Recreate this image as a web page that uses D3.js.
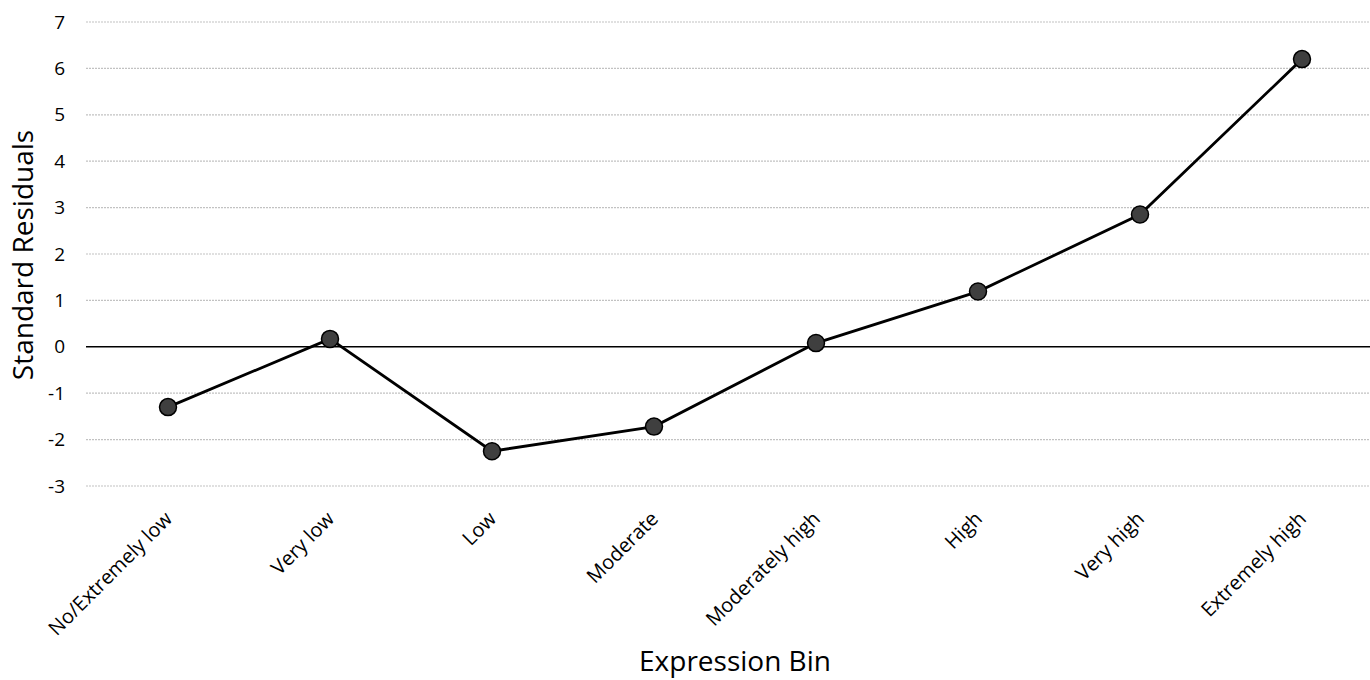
<!DOCTYPE html>
<html><head><meta charset="utf-8">
<script src="https://cdn.jsdelivr.net/npm/d3@7"></script>
<style>body{margin:0;background:#fff}svg{display:block;font-family:"Open Sans",sans-serif}</style>
</head><body><svg id="c" width="1370" height="680"></svg>
<script>
const categories = ["No/Extremely low","Very low","Low","Moderate","Moderately high","High","Very high","Extremely high"];
const residuals = [-1.3, 0.17, -2.25, -1.72, 0.08, 1.19, 2.85, 6.2];
const yTicks = [-3,-2,-1,0,1,2,3,4,5,6,7];

const svg = d3.select("#c");
const x = d3.scalePoint().domain(categories).range([168, 1302]);
const y = d3.scaleLinear().domain([-3, 7]).range([486, 22]);
const left = 86, right = 1370;
const FONT = "'Open Sans',sans-serif";

// gridlines
svg.append("g").selectAll("line").data(yTicks.filter(d => d !== 0)).join("line")
  .attr("x1", left).attr("x2", right).attr("y1", d => y(d)).attr("y2", d => y(d))
  .attr("stroke", "#c2c2c2").attr("stroke-width", 1.2).attr("stroke-dasharray", "2,1");

// y axis labels
const yAxis = d3.axisLeft(y).tickValues(yTicks).tickSize(0).tickPadding(0).tickFormat(d => String(d));
const ya = svg.append("g").attr("transform", `translate(65,0)`).call(yAxis);
ya.select(".domain").remove();
ya.selectAll("text").attr("font-size", 19).attr("fill", "#000").attr("font-family", FONT).attr("text-anchor","end");

// zero line
svg.append("line").attr("x1", left).attr("x2", right).attr("y1", y(0)).attr("y2", y(0))
  .attr("stroke", "#000").attr("stroke-width", 1.5);

// x axis labels
const xAxis = d3.axisBottom(x).tickSize(0).tickPadding(0);
const xa = svg.append("g").attr("transform", `translate(0,${y(-3)})`).call(xAxis);
xa.select(".domain").remove();
xa.selectAll("text").attr("font-size", 20).attr("fill", "#000").attr("font-family", FONT)
  .attr("text-anchor", "end").attr("dy", null)
  .attr("transform", "translate(5,34) rotate(-45)");

// line
svg.append("path").datum(residuals)
  .attr("d", d3.line().x((d, i) => x(categories[i])).y(d => y(d)))
  .attr("fill", "none").attr("stroke", "#000").attr("stroke-width", 2.8);

// points
svg.append("g").selectAll("circle").data(residuals).join("circle")
  .attr("cx", (d, i) => x(categories[i])).attr("cy", d => y(d)).attr("r", 8.5)
  .attr("fill", "#3f3f3f").attr("stroke", "#000").attr("stroke-width", 1.5);

// titles
svg.append("text").attr("x", 735).attr("y", 671).attr("text-anchor", "middle")
  .attr("font-size", 28).text("Expression Bin");
svg.append("text").attr("transform", `translate(33,255) rotate(-90)`).attr("text-anchor", "middle")
  .attr("font-size", 28).text("Standard Residuals");
</script></body></html>
